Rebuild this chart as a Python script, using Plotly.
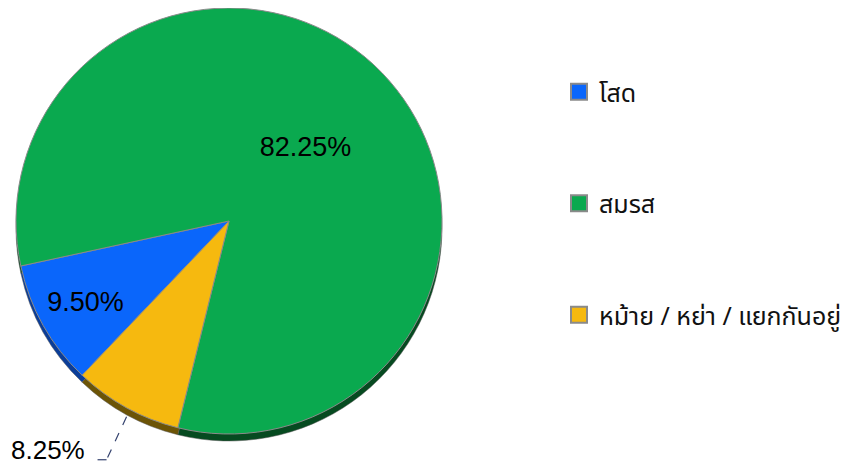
import math
import plotly.graph_objects as go

# ---- data ----
labels = ["โสด", "สมรส", "หม้าย / หย่า / แยกกันอยู่"]
values = [9.50, 82.25, 8.25]
colors = ["#0a66fb", "#0aa94f", "#f6b90f"]
shadow_colors = ["#0a3d99", "#064a20", "#6c5406"]

W, H = 853, 468
OFF = 8                            # page body margin of the exported html
cx, cy, r = 229, 221, 213          # pie centre / radius in screen pixels
shadow_drop = 7
start_angle = 223.6                # first slice starts here (deg clockwise from 12 o'clock)


def px_x(x):
    return min(1.0, max(0.0, (x - OFF) / W))


def px_y(y):
    return min(1.0, max(0.0, 1 - (y - OFF) / H))


fig = go.Figure()

# 3D-looking rim (same data, darker colours, dropped a few pixels)
fig.add_trace(go.Pie(
    labels=labels, values=values, sort=False, direction="clockwise",
    rotation=start_angle,
    marker=dict(colors=shadow_colors, line=dict(color="#555555", width=0.5)),
    textinfo="none", hoverinfo="skip", showlegend=False,
    domain=dict(x=[px_x(cx - r), px_x(cx + r)],
                y=[px_y(cy + r + shadow_drop), px_y(cy - r + shadow_drop)]),
))

# main pie
fig.add_trace(go.Pie(
    labels=labels, values=values, sort=False, direction="clockwise",
    rotation=start_angle,
    marker=dict(colors=colors, line=dict(color="#8a8a8a", width=1)),
    texttemplate=["%{percent:.2%}", "%{percent:.2%}", ""],
    textposition="inside", insidetextorientation="horizontal",
    textfont=dict(family="Liberation Sans, Arial", size=27, color="#000000"),
    showlegend=False,
    domain=dict(x=[px_x(cx - r), px_x(cx + r)],
                y=[px_y(cy + r), px_y(cy - r)]),
))

# legend entries
for lab, col in zip(labels, colors):
    fig.add_trace(go.Scatter(
        x=[None], y=[None], mode="markers", name=lab, legendgroup=lab,
        marker=dict(symbol="square", size=22, color=col, line=dict(color="#8a8a8a", width=2)),
        showlegend=True,
    ))

# outside label for the small yellow slice, placed from the slice's mid angle
total = sum(values)
acc = sum(values[:2])
mid = math.radians(start_angle + 360 * (acc + values[2] / 2) / total)
dx, dy = math.sin(mid), -math.cos(mid)
p0 = (cx + r * dx, cy + r * dy + shadow_drop + 2)
p1 = (p0[0] - 20, p0[1] + 43)
p2 = (p1[0] - 14, p1[1])
line_style = dict(color="#34426e", width=1.2, dash="dash")
fig.add_shape(type="line", xref="paper", yref="paper",
              x0=px_x(p0[0]), y0=px_y(p0[1]), x1=px_x(p1[0]), y1=px_y(p1[1]), line=line_style)
fig.add_shape(type="line", xref="paper", yref="paper",
              x0=px_x(p1[0]), y0=px_y(p1[1]), x1=px_x(p2[0]), y1=px_y(p2[1]), line=line_style)
fig.add_annotation(
    x=px_x(p2[0] - 6), y=px_y(p2[1] - 10), xref="paper", yref="paper",
    xanchor="right", yanchor="middle", showarrow=False,
    text=f"{values[2] / total * 100:.2f}%",
    font=dict(family="Liberation Sans, Arial", size=26, color="#000000"),
)

fig.update_layout(
    width=W, height=H,
    margin=dict(l=0, r=0, t=0, b=0),
    paper_bgcolor="white", plot_bgcolor="white",
    xaxis=dict(visible=False), yaxis=dict(visible=False),
    legend=dict(x=px_x(559), y=px_y(69), xanchor="left", yanchor="top",
                font=dict(family="Noto Sans Thai, Tahoma, Noto Sans, sans-serif", size=25, color="#111111"),
                tracegroupgap=76, itemclick=False, itemdoubleclick=False,
                bgcolor="rgba(0,0,0,0)"),
)

fig.write_html("out.html")
